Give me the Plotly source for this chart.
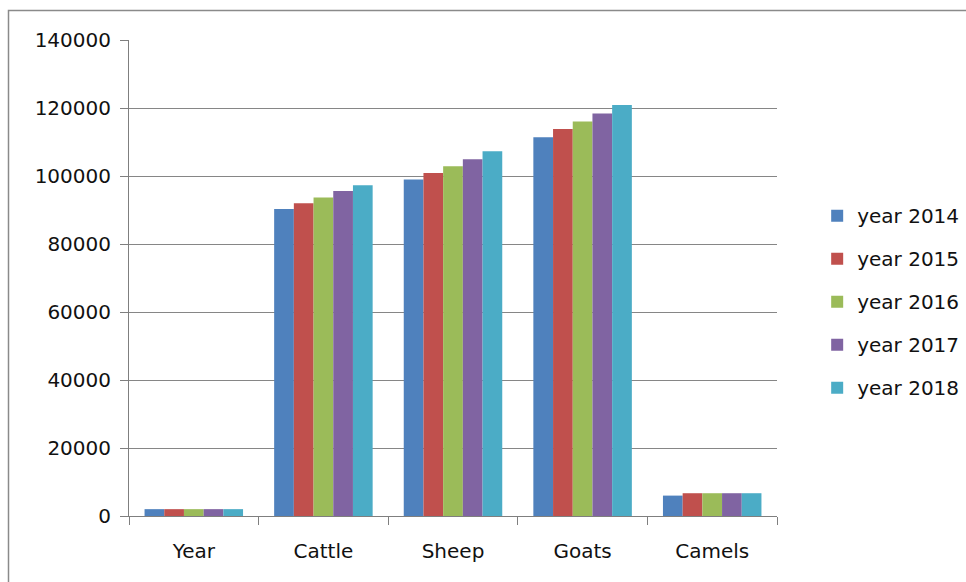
import plotly.graph_objects as go

categories = ["Year", "Cattle", "Sheep", "Goats", "Camels"]
series_names = ["year 2014", "year 2015", "year 2016", "year 2017", "year 2018"]

year_2014 = [2014, 90300, 99000, 111400, 6000]
year_2015 = [2015, 92000, 100900, 113800, 6700]
year_2016 = [2016, 93700, 102900, 116000, 6700]
year_2017 = [2017, 95600, 104900, 118400, 6700]
year_2018 = [2018, 97300, 107300, 120900, 6700]

series_values = [year_2014, year_2015, year_2016, year_2017, year_2018]
colors = ["#4F81BD", "#C0504D", "#9BBB59", "#8064A2", "#4BACC6"]

font_family = "DejaVu Sans"
font_size = 20

fig = go.Figure()
for i, (name, vals, col) in enumerate(zip(series_names, series_values, colors)):
    fig.add_trace(go.Bar(
        x=categories, y=vals, name=name,
        marker=dict(color=col, line=dict(width=0)),
        legendgroup=f"g{i}",
    ))

fig.update_layout(
    width=966, height=582,
    margin=dict(l=129, r=189, t=40, b=66, autoexpand=False),
    paper_bgcolor="white", plot_bgcolor="white",
    barmode="group", bargap=0.24, bargroupgap=0,
    font=dict(family=font_family, size=font_size, color="#111111"),
    showlegend=True,
    legend=dict(
        x=1.062, y=0.672, xanchor="left", yanchor="top",
        font=dict(family=font_family, size=font_size, color="#111111"),
        tracegroupgap=14, itemwidth=30,
        bgcolor="rgba(0,0,0,0)",
    ),
    xaxis=dict(
        type="category",
        showline=True, linecolor="#7f7f7f", linewidth=1,
        ticks="outside", tickson="boundaries", ticklen=8, tickcolor="#7f7f7f",
        showgrid=False,
        tickfont=dict(family=font_family, size=font_size, color="#111111"),
        ticklabelstandoff=17,
    ),
    yaxis=dict(
        range=[0, 140000], dtick=20000, tickformat="d",
        showline=True, linecolor="#7f7f7f", linewidth=1,
        ticks="outside", ticklen=8, tickcolor="#7f7f7f",
        showgrid=True, gridcolor="#868686", gridwidth=1,
        zeroline=False,
        tickfont=dict(family=font_family, size=font_size, color="#111111"),
        ticklabelstandoff=5,
    ),
    shapes=[dict(
        type="rect", xref="paper", yref="paper",
        x0=(8.5 - 129) / 648, x1=(990 - 129) / 648,
        y0=(516 - 600) / 476, y1=(516 - 10.5) / 476,
        line=dict(color="#8a8a8a", width=1.5),
        fillcolor="rgba(0,0,0,0)", layer="below",
    )],
)

fig.write_html("out.html")
